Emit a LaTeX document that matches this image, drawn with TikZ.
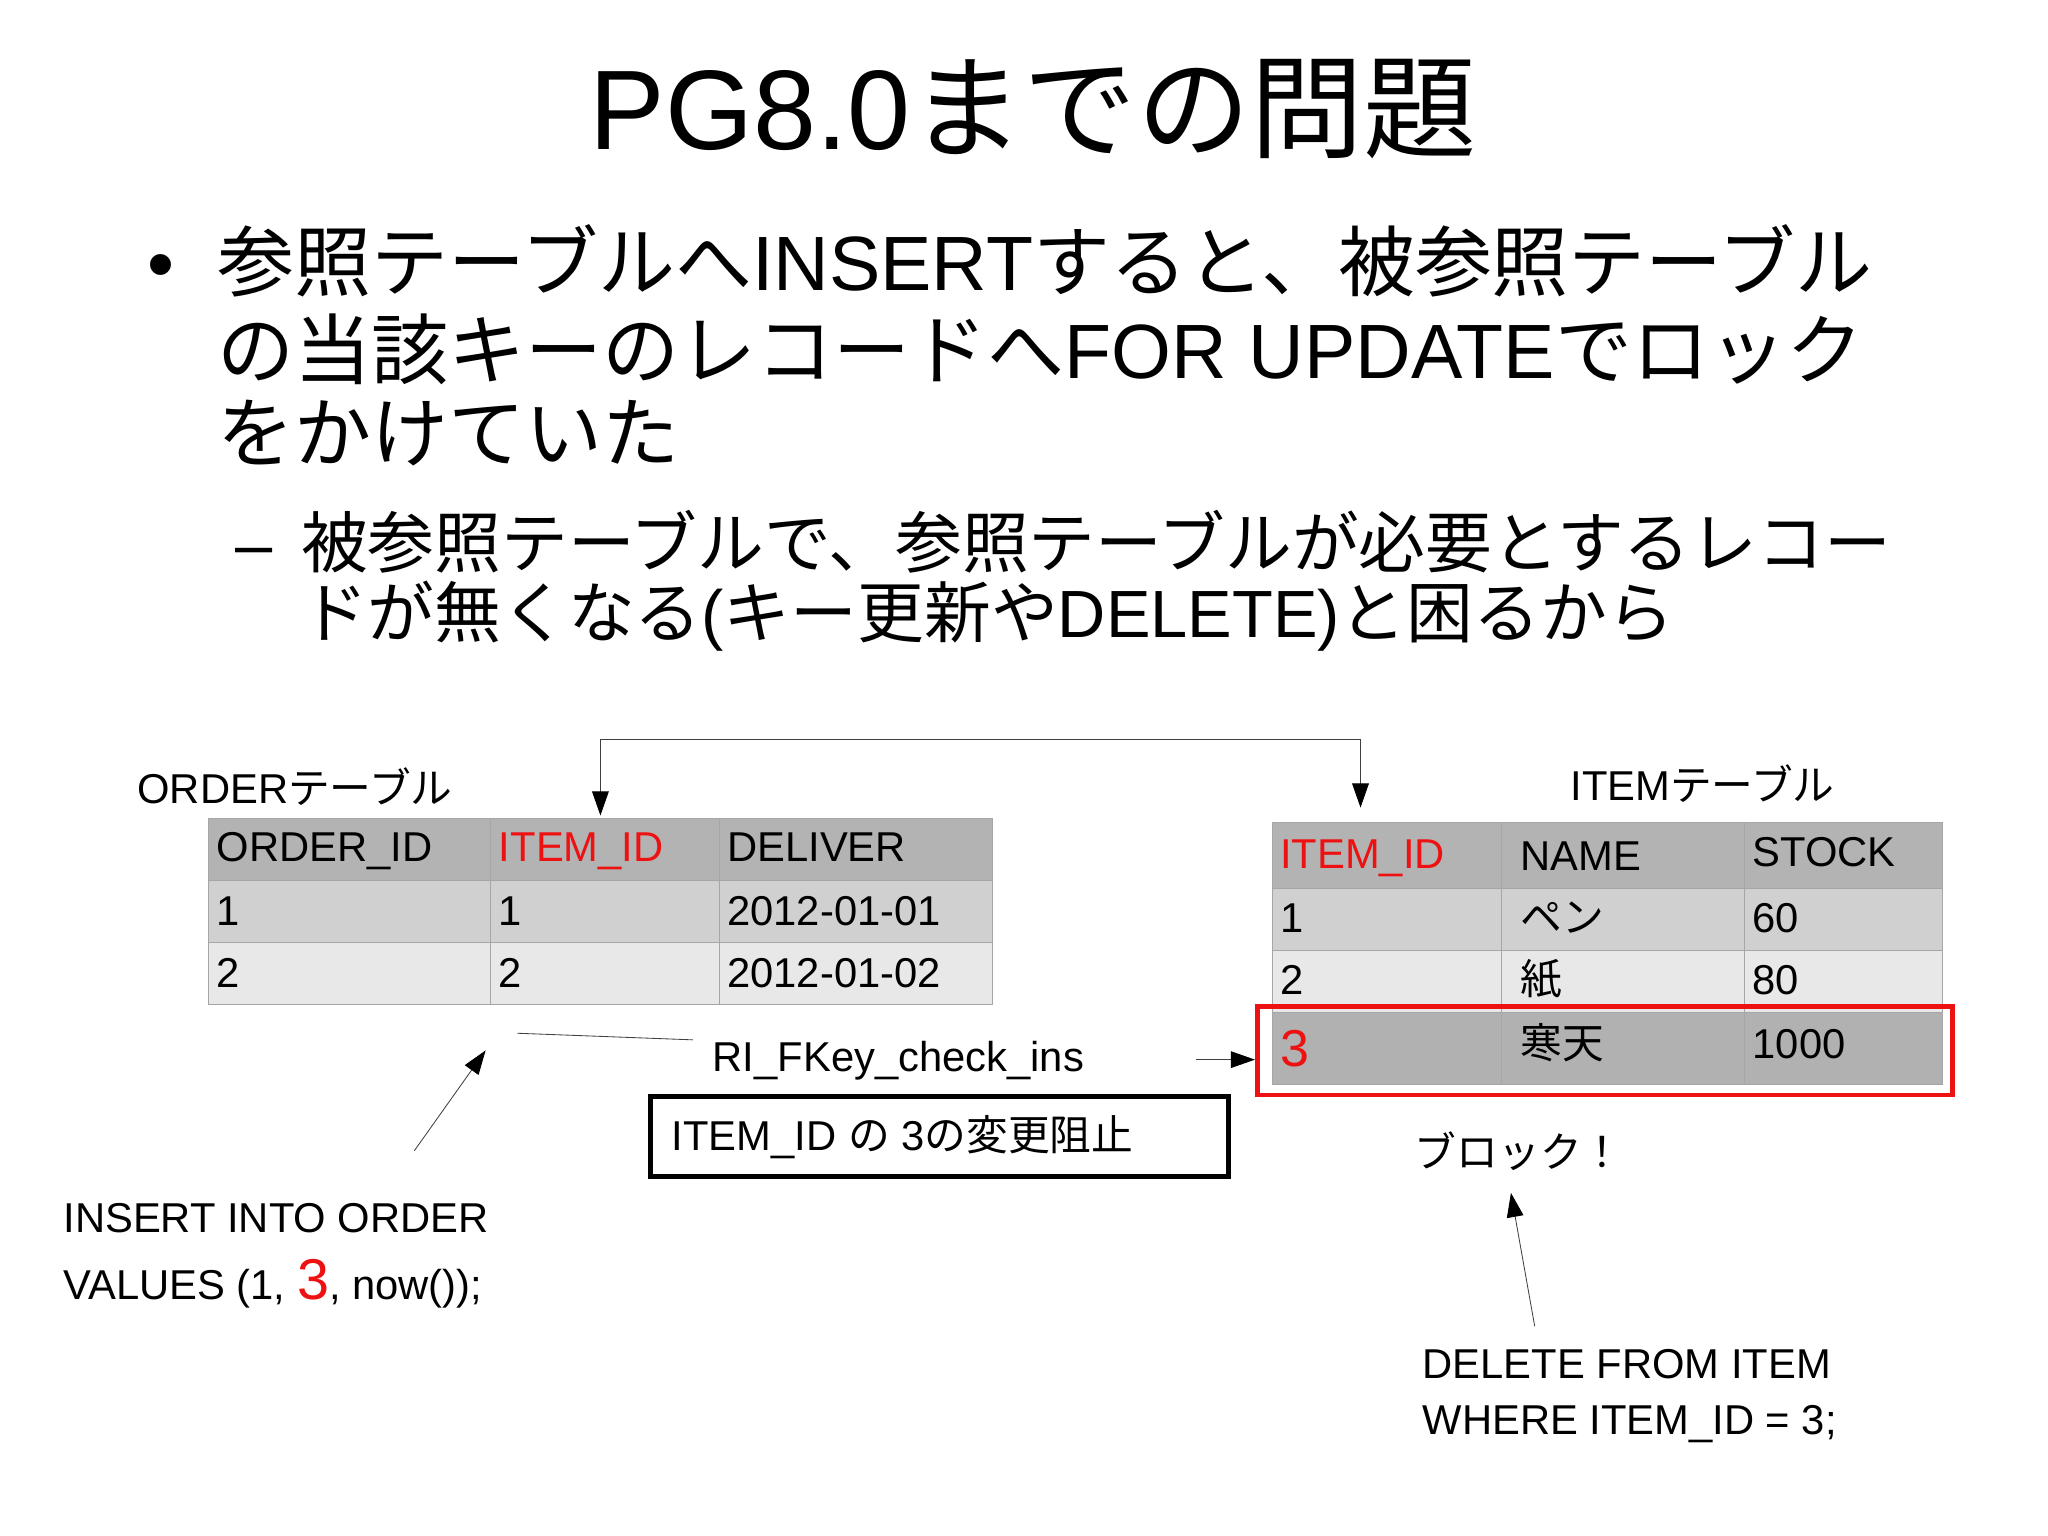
\documentclass[tikz,border=0pt]{standalone}
\usepackage{fontspec}
\setmainfont{Liberation Sans}
\newfontfamily\jpfont{Noto Sans CJK JP}
\newcommand{\jp}[1]{{\jpfont #1}}
\usetikzlibrary{arrows.meta}
\definecolor{hdr}{HTML}{B3B3B3}
\definecolor{ra}{HTML}{D0D0D0}
\definecolor{rb}{HTML}{E8E8E8}
\definecolor{rr}{HTML}{EE1111}
\begin{document}
\begin{tikzpicture}[x=0.05cm,y=-0.05cm,
  txt/.style={anchor=base west,inner sep=0pt},
  cell/.style={draw=gray!70,line width=1pt},
  conn/.style={draw=gray!50!black,line width=0.9pt},
  tip/.style={-{Triangle[length=26pt,width=18pt,color=black]}},
  big/.style={font=\fontsize{122}{130}\selectfont},
  bul/.style={font=\fontsize{83}{90}\selectfont},
  sub/.style={font=\fontsize{72}{78}\selectfont},
  tab/.style={font=\fontsize{45}{50}\selectfont},
  ]
\useasboundingbox (0,0) rectangle (1552,1164);
\fill[white] (0,0) rectangle (1552,1164);
% title
\node[anchor=base,inner sep=0pt,big] (title) at (783,113) {PG8.0\jp{までの問題}};
% bullets
\node[txt,bul] (b0) at (112,220) {\textbullet};
\node[txt,bul] (b1) at (165,220) {\jp{参照テーブルへ}INSERT\jp{すると、被参照テーブル}};
\node[txt,bul] (b2) at (165,287) {\jp{の当該キーのレコードへ}FOR UPDATE\jp{でロック}};
\node[txt,bul] (b3) at (165,350) {\jp{をかけていた}};
\node[txt,sub] (s0) at (178,430) {–};
\node[txt,sub] (s1) at (228,430) {\jp{被参照テーブルで、参照テーブルが必要とするレコー}};
\node[txt,sub] (s2) at (228,483) {\jp{ドが無くなる}(\jp{キー更新や}DELETE)\jp{と困るから}};
% ORDER table
\node[txt,tab] (olab) at (104,609) {ORDER\jp{テーブル}};
\fill[hdr] (158,620) rectangle (752,667);
\fill[ra] (158,667) rectangle (752,714);
\fill[rb] (158,714) rectangle (752,761);
\draw[cell] (158,620) rectangle (752,761);
\draw[cell] (158,667) -- (752,667) (158,714) -- (752,714) (372,620) -- (372,761) (545,620) -- (545,761);
\node[txt,tab] at (164,653) {ORDER\_ID};
\node[txt,tab,text=rr] (oid) at (378,653) {ITEM\_ID};
\node[txt,tab] at (551,653) {DELIVER};
\node[txt,tab] at (164,701) {1};
\node[txt,tab] at (378,701) {1};
\node[txt,tab] at (551,701) {2012-01-01};
\node[txt,tab] at (164,748) {2};
\node[txt,tab] at (378,748) {2};
\node[txt,tab] at (551,748) {2012-01-02};
% ITEM table
\node[txt,tab] (ilab) at (1190,607) {ITEM\jp{テーブル}};
\fill[hdr] (964,623) rectangle (1472,673);
\fill[ra] (964,673) rectangle (1472,720);
\fill[rb] (964,720) rectangle (1472,767);
\fill[ra!85!black] (964,767) rectangle (1472,822);
\draw[cell] (964,623) rectangle (1472,822);
\draw[cell] (964,673) -- (1472,673) (964,720) -- (1472,720) (964,767) -- (1472,767) (1138,623) -- (1138,822) (1322,623) -- (1322,822);
\node[txt,tab,text=rr] at (970,658) {ITEM\_ID};
\node[txt,tab] at (1152,660) {NAME};
\node[txt,tab] at (1328,657) {STOCK};
\node[txt,tab] at (970,707) {1};
\node[txt,tab] at (1152,707) {\jp{ペン}};
\node[txt,tab] at (1328,707) {60};
\node[txt,tab] at (970,754) {2};
\node[txt,tab] at (1152,754) {\jp{紙}};
\node[txt,tab] at (1328,754) {80};
\node[txt,font=\fontsize{56}{60}\selectfont,text=rr] at (970,808) {3};
\node[txt,tab] at (1152,802) {\jp{寒天}};
\node[txt,tab] at (1328,802) {1000};
\node[draw=rr,line width=5pt,minimum width=527*0.05cm,minimum height=67*0.05cm,anchor=north west,inner sep=0pt] (redbox) at (951,761) {};
% bracket connector
\coordinate (ta) at (455,618);
\coordinate (tb) at (1031,612);
\draw[conn,tip] (455,560) -- (ta);
\draw[conn,tip] (455,560) -- (1031,560) -- (tb);
% RI_FKey
\node[txt,tab] (ri) at (540,812) {RI\_FKey\_check\_ins};
\coordinate (l1) at (392,783);
\coordinate (l2) at (525,788);
\draw[conn] (l1) -- (l2);
\coordinate (ra1) at (906,803);
\draw[conn,tip] (ra1) -- (redbox.west |- ra1);
\node[draw,line width=5pt,minimum width=438*0.05cm,minimum height=61*0.05cm,anchor=north west,inner sep=0pt] (lock) at (491,829) {};
\node[txt,tab] at (509,872) {ITEM\_ID \jp{の} 3\jp{の変更阻止}};
% INSERT
\node[txt,tab] (ins1) at (48,934) {INSERT INTO ORDER};
\node[txt,tab] (ins2) at (48,985) {VALUES (1, {\color{rr}\fontsize{62}{66}\selectfont 3}, now());};
\coordinate (i1) at (314,872);
\coordinate (i2) at (368,796);
\draw[conn,tip] (i1) -- (i2);
% block
\node[txt,tab] (blk) at (1072,885) {\jp{ブロック！}};
\coordinate (d1) at (1163,1005);
\coordinate (d2) at (1145,904);
\draw[conn,tip] (d1) -- (d2);
\node[txt,tab] (del1) at (1078,1045) {DELETE FROM ITEM};
\node[txt,tab] (del2) at (1078,1087) {WHERE ITEM\_ID = 3;};
\end{tikzpicture}
\end{document}
